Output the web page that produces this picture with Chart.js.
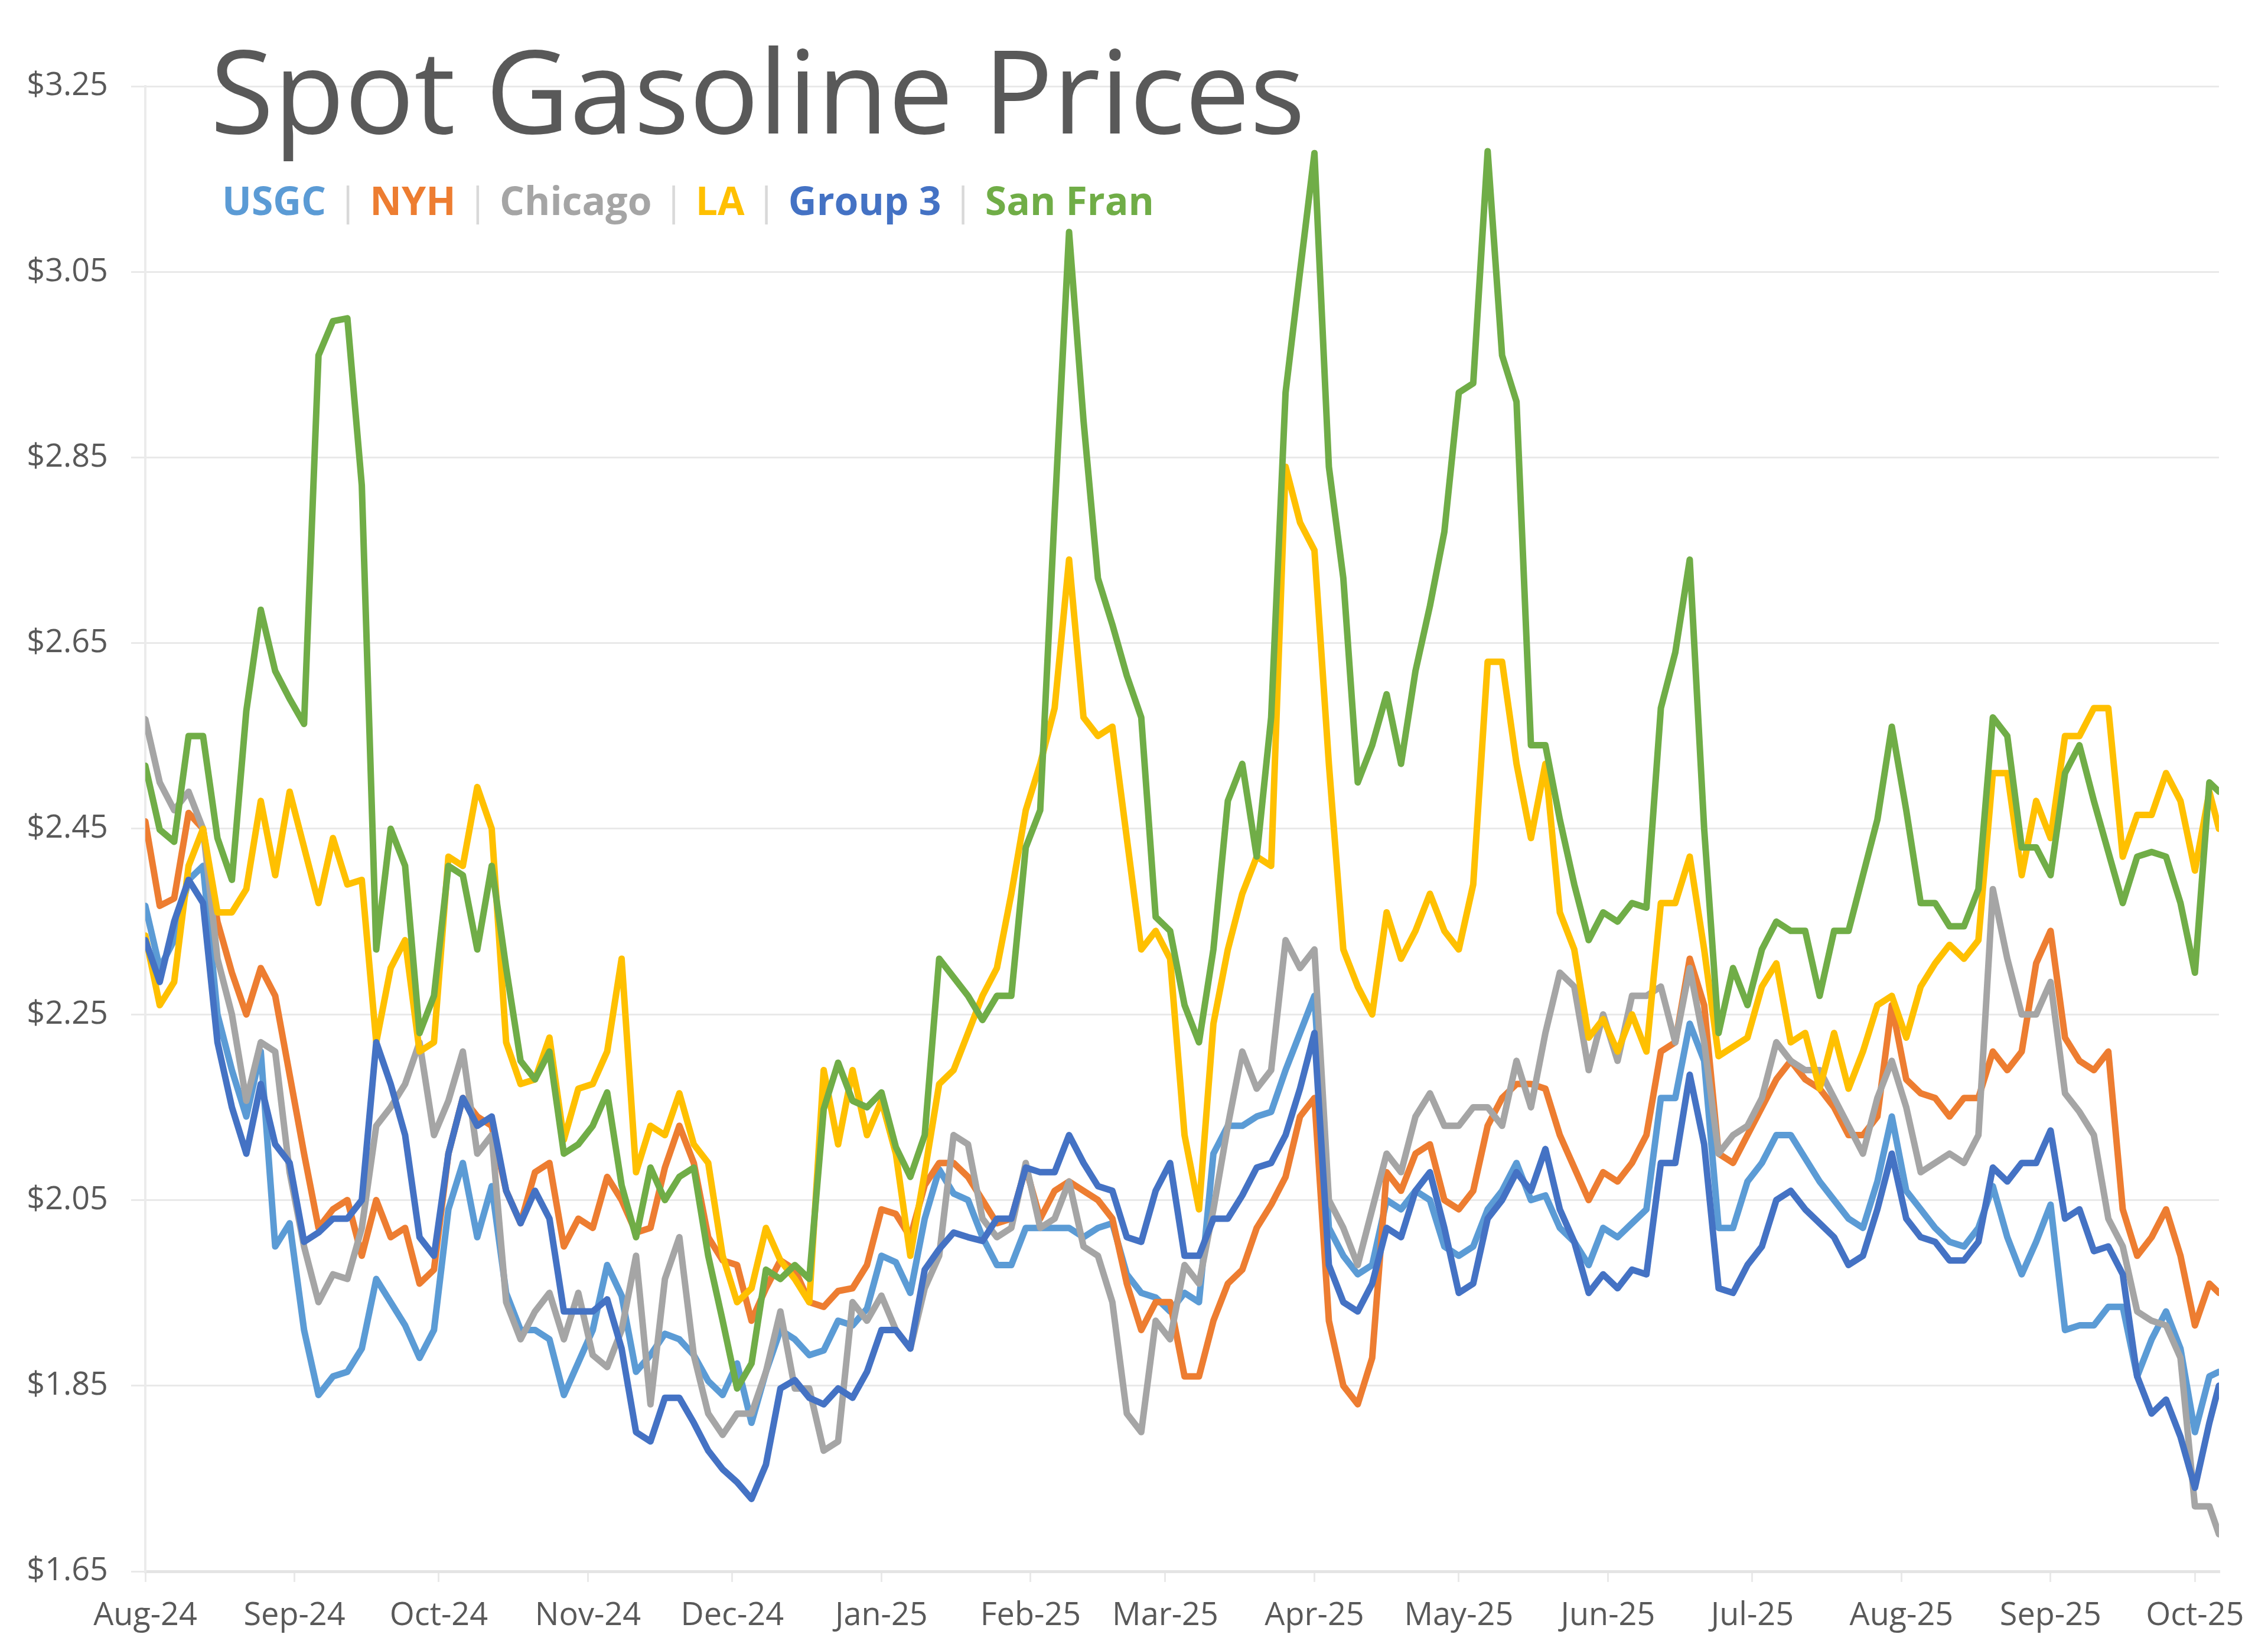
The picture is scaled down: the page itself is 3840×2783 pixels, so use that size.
<!DOCTYPE html>
<html>
<head>
<meta charset="utf-8">
<title>Spot Gasoline Prices</title>
<script src="https://cdn.jsdelivr.net/npm/chart.js@4.4.1/dist/chart.umd.min.js"></script>
<style>
    html, body { margin: 0; padding: 0; background: #fff; }
    #wrap { position: relative; width: 3840px; height: 2783px; }
    #title {
        position: absolute; left: 356px; top: 52px;
        font: 400 196px "Open Sans", "Segoe UI", sans-serif;
        line-height: 1; color: #595959; white-space: nowrap;
    }
    #legend {
        position: absolute; left: 376px; top: 305px;
        font: 700 66px "Open Sans", "Segoe UI", sans-serif;
        line-height: 1; white-space: nowrap;
    }
    #legend .sep { color: #d9d9d9; font-weight: 400; margin: 0 19px; }
</style>
</head>
<body>
<div id="wrap">
    <canvas id="gas-chart"></canvas>
    <div id="title">Spot Gasoline Prices</div>
    <div id="legend"></div>
</div>
<script>
// ── Data (roughly every 3 days from Aug 1 2024) ──

const dayOffsets = [
    0, 3, 6, 9, 12, 15, 18, 21, 24, 27, 30, 33, 36, 39, 42, 45, 48, 51, 54, 57, 60, 63, 66, 69, 72, 75, 78, 81, 84, 87, 90,
    93, 96, 99, 102, 105, 108, 111, 114, 117, 120, 123, 126, 129, 132, 135, 138, 141, 144, 147, 150, 153, 156, 159, 162, 165, 168, 171, 174, 177, 180, 183,
    186, 189, 192, 195, 198, 201, 204, 207, 210, 213, 216, 219, 222, 225, 228, 231, 234, 237, 240, 243, 246, 249, 252, 255, 258, 261, 264, 267, 270, 273,
    276, 279, 282, 285, 288, 291, 294, 297, 300, 303, 306, 309, 312, 315, 318, 321, 324, 327, 330, 333, 336, 339, 342, 345, 348, 351, 354, 357, 360, 363, 366,
    369, 372, 375, 378, 381, 384, 387, 390, 393, 396, 399, 402, 405, 408, 411, 414, 417, 420, 423, 426, 429, 431,
];

const usgc = [
    2.367, 2.30, 2.33, 2.395, 2.41, 2.25, 2.19, 2.14, 2.21, 2.00, 2.025, 1.91, 1.84, 1.86, 1.865, 1.89, 1.965, 1.94, 1.915, 1.88, 1.91, 2.04, 2.09, 2.01, 2.065, 1.95, 1.91, 1.91, 1.90, 1.84, 1.875,
    1.91, 1.98, 1.947, 1.865, 1.883, 1.906, 1.90, 1.883, 1.855, 1.84, 1.874, 1.81, 1.865, 1.91, 1.90, 1.883, 1.888, 1.92, 1.915, 1.933, 1.99, 1.983, 1.95, 2.03, 2.083, 2.057, 2.05, 2.01, 1.98, 1.98, 2.02,
    2.02, 2.02, 2.02, 2.01, 2.02, 2.025, 1.97, 1.95, 1.945, 1.93, 1.95, 1.94, 2.10, 2.13, 2.13, 2.14, 2.145, 2.19, 2.23, 2.27, 2.02, 1.99, 1.97, 1.98, 2.05, 2.04, 2.06, 2.05, 2.00, 1.99,
    2.00, 2.04, 2.06, 2.09, 2.05, 2.055, 2.02, 2.005, 1.98, 2.02, 2.01, 2.025, 2.04, 2.16, 2.16, 2.24, 2.20, 2.02, 2.02, 2.07, 2.09, 2.12, 2.12, 2.095, 2.07, 2.05, 2.03, 2.02, 2.07, 2.14, 2.06,
    2.04, 2.02, 2.005, 2.00, 2.02, 2.065, 2.01, 1.97, 2.005, 2.045, 1.91, 1.915, 1.915, 1.935, 1.935, 1.86, 1.90, 1.93, 1.89, 1.80, 1.86, 1.865,
];

const nyh = [
    2.458, 2.367, 2.375, 2.467, 2.45, 2.35, 2.295, 2.25, 2.30, 2.27, 2.185, 2.10, 2.02, 2.04, 2.05, 1.99, 2.05, 2.01, 2.02, 1.96, 1.975, 2.10, 2.16, 2.14, 2.13, 2.06, 2.025, 2.08, 2.09, 2.00, 2.03,
    2.02, 2.075, 2.05, 2.015, 2.02, 2.085, 2.13, 2.09, 2.01, 1.985, 1.98, 1.92, 1.955, 1.985, 1.975, 1.94, 1.935, 1.952, 1.955, 1.98, 2.04, 2.035, 2.01, 2.066, 2.09, 2.09, 2.075, 2.05, 2.025, 2.03, 2.085,
    2.03, 2.06, 2.07, 2.06, 2.05, 2.03, 1.96, 1.91, 1.94, 1.94, 1.86, 1.86, 1.92, 1.96, 1.975, 2.02, 2.045, 2.075, 2.14, 2.16, 1.92, 1.85, 1.83, 1.88, 2.08, 2.06, 2.10, 2.11, 2.05, 2.04,
    2.06, 2.13, 2.16, 2.175, 2.175, 2.17, 2.12, 2.085, 2.05, 2.08, 2.07, 2.09, 2.12, 2.21, 2.22, 2.31, 2.26, 2.10, 2.09, 2.12, 2.15, 2.18, 2.20, 2.18, 2.17, 2.15, 2.12, 2.12, 2.14, 2.26, 2.18,
    2.165, 2.16, 2.14, 2.16, 2.16, 2.21, 2.19, 2.21, 2.305, 2.34, 2.225, 2.20, 2.19, 2.21, 2.04, 1.99, 2.01, 2.04, 1.99, 1.915, 1.96, 1.95,
];

const chicago = [
    2.568, 2.50, 2.47, 2.49, 2.45, 2.31, 2.25, 2.157, 2.22, 2.21, 2.08, 2.00, 1.94, 1.97, 1.965, 2.02, 2.13, 2.15, 2.175, 2.22, 2.12, 2.157, 2.21, 2.10, 2.12, 1.94, 1.90, 1.93, 1.95, 1.90, 1.95,
    1.883, 1.87, 1.91, 1.99, 1.83, 1.965, 2.01, 1.883, 1.82, 1.797, 1.82, 1.82, 1.865, 1.93, 1.847, 1.847, 1.78, 1.79, 1.94, 1.92, 1.947, 1.91, 1.89, 1.955, 1.99, 2.12, 2.11, 2.03, 2.01, 2.02, 2.09,
    2.02, 2.03, 2.07, 2.00, 1.99, 1.94, 1.82, 1.80, 1.92, 1.90, 1.98, 1.96, 2.04, 2.13, 2.21, 2.17, 2.19, 2.33, 2.30, 2.32, 2.05, 2.02, 1.98, 2.04, 2.10, 2.08, 2.14, 2.165, 2.13, 2.13,
    2.15, 2.15, 2.13, 2.20, 2.15, 2.23, 2.295, 2.28, 2.19, 2.25, 2.20, 2.27, 2.27, 2.28, 2.22, 2.30, 2.22, 2.10, 2.12, 2.13, 2.16, 2.22, 2.20, 2.19, 2.19, 2.16, 2.13, 2.10, 2.16, 2.20, 2.15,
    2.08, 2.09, 2.10, 2.09, 2.12, 2.385, 2.31, 2.25, 2.25, 2.285, 2.165, 2.145, 2.12, 2.03, 2.00, 1.93, 1.92, 1.915, 1.88, 1.72, 1.72, 1.69,
];

const la = [
    2.335, 2.26, 2.285, 2.41, 2.45, 2.36, 2.36, 2.385, 2.48, 2.40, 2.49, 2.43, 2.37, 2.44, 2.39, 2.395, 2.22, 2.30, 2.33, 2.21, 2.22, 2.42, 2.41, 2.495, 2.45, 2.22, 2.175, 2.18, 2.225, 2.115, 2.17,
    2.175, 2.21, 2.31, 2.08, 2.13, 2.12, 2.165, 2.11, 2.09, 1.99, 1.94, 1.955, 2.02, 1.985, 1.965, 1.94, 2.19, 2.11, 2.19, 2.12, 2.157, 2.10, 1.99, 2.08, 2.175, 2.19, 2.23, 2.27, 2.30, 2.38, 2.47,
    2.52, 2.58, 2.74, 2.57, 2.55, 2.56, 2.44, 2.32, 2.34, 2.31, 2.12, 2.04, 2.24, 2.32, 2.38, 2.42, 2.41, 2.84, 2.78, 2.75, 2.52, 2.32, 2.28, 2.25, 2.36, 2.31, 2.34, 2.38, 2.34, 2.32,
    2.39, 2.63, 2.63, 2.52, 2.44, 2.52, 2.36, 2.32, 2.225, 2.245, 2.21, 2.25, 2.21, 2.37, 2.37, 2.42, 2.32, 2.205, 2.215, 2.225, 2.28, 2.305, 2.22, 2.23, 2.17, 2.23, 2.17, 2.21, 2.26, 2.27, 2.225,
    2.28, 2.305, 2.325, 2.31, 2.33, 2.51, 2.51, 2.40, 2.48, 2.44, 2.55, 2.55, 2.58, 2.58, 2.42, 2.465, 2.465, 2.51, 2.48, 2.405, 2.49, 2.45,
];

const group3 = [
    2.33, 2.285, 2.35, 2.395, 2.37, 2.22, 2.15, 2.10, 2.175, 2.11, 2.09, 2.005, 2.015, 2.03, 2.03, 2.05, 2.22, 2.175, 2.12, 2.01, 1.99, 2.10, 2.16, 2.13, 2.14, 2.06, 2.025, 2.06, 2.03, 1.93, 1.93,
    1.93, 1.943, 1.89, 1.80, 1.79, 1.837, 1.837, 1.81, 1.78, 1.76, 1.746, 1.728, 1.765, 1.847, 1.856, 1.837, 1.83, 1.847, 1.837, 1.865, 1.91, 1.91, 1.89, 1.975, 1.997, 2.015, 2.01, 2.006, 2.03, 2.03, 2.085,
    2.08, 2.08, 2.12, 2.09, 2.065, 2.06, 2.01, 2.005, 2.06, 2.09, 1.99, 1.99, 2.03, 2.03, 2.055, 2.085, 2.09, 2.12, 2.17, 2.23, 1.98, 1.94, 1.93, 1.96, 2.02, 2.01, 2.06, 2.08, 2.02, 1.95,
    1.96, 2.03, 2.05, 2.08, 2.06, 2.105, 2.04, 2.005, 1.95, 1.97, 1.955, 1.975, 1.97, 2.09, 2.09, 2.185, 2.11, 1.955, 1.95, 1.98, 2.00, 2.05, 2.06, 2.04, 2.025, 2.01, 1.98, 1.99, 2.04, 2.10, 2.03,
    2.01, 2.005, 1.985, 1.985, 2.005, 2.085, 2.07, 2.09, 2.09, 2.125, 2.03, 2.04, 1.995, 2.00, 1.97, 1.86, 1.82, 1.835, 1.795, 1.74, 1.81, 1.85,
];

const sanFran = [
    2.518, 2.449, 2.436, 2.55, 2.55, 2.44, 2.395, 2.577, 2.686, 2.62, 2.59, 2.563, 2.96, 2.997, 3.00, 2.82, 2.32, 2.45, 2.41, 2.23, 2.27, 2.41, 2.40, 2.32, 2.41, 2.30, 2.20, 2.18, 2.21, 2.10, 2.11,
    2.13, 2.166, 2.066, 2.01, 2.085, 2.05, 2.075, 2.085, 1.99, 1.92, 1.847, 1.874, 1.975, 1.965, 1.98, 1.965, 2.148, 2.198, 2.157, 2.15, 2.166, 2.107, 2.075, 2.12, 2.31, 2.29, 2.27, 2.244, 2.27, 2.27, 2.43,
    2.47, 2.79, 3.093, 2.89, 2.72, 2.67, 2.615, 2.57, 2.355, 2.34, 2.26, 2.22, 2.32, 2.48, 2.52, 2.42, 2.57, 2.92, 3.05, 3.178, 2.84, 2.72, 2.50, 2.54, 2.595, 2.52, 2.62, 2.69, 2.77, 2.92,
    2.93, 3.18, 2.96, 2.91, 2.54, 2.54, 2.46, 2.39, 2.33, 2.36, 2.35, 2.37, 2.365, 2.58, 2.64, 2.74, 2.45, 2.23, 2.30, 2.26, 2.32, 2.35, 2.34, 2.34, 2.27, 2.34, 2.34, 2.40, 2.46, 2.56, 2.47,
    2.37, 2.37, 2.345, 2.345, 2.385, 2.57, 2.55, 2.43, 2.43, 2.40, 2.51, 2.54, 2.48, 2.425, 2.37, 2.42, 2.425, 2.42, 2.37, 2.295, 2.50, 2.49,
];

const seriesNames  = ['USGC', 'NYH', 'Chicago', 'LA', 'Group 3', 'San Fran'];
const seriesValues = [usgc, nyh, chicago, la, group3, sanFran];
const seriesColors = ['#5B9BD5', '#ED7D31', '#A5A5A5', '#FFC000', '#4472C4', '#70AD47'];

const monthStartDays = [0, 31, 61, 92, 122, 153, 184, 212, 243, 273, 304, 334, 365, 396, 426];
const monthLabels = ['Aug-24', 'Sep-24', 'Oct-24', 'Nov-24', 'Dec-24', 'Jan-25', 'Feb-25', 'Mar-25',
                     'Apr-25', 'May-25', 'Jun-25', 'Jul-25', 'Aug-25', 'Sep-25', 'Oct-25'];

const FONT = '"Open Sans", "Segoe UI", sans-serif';
const TEXT_GREY = '#595959';
const GRID_GREY = '#e9e9e9';

// ── Legend (text row under the title) ────────────────────────────────

document.getElementById('legend').innerHTML = seriesNames
    .map((name, i) => `<span style="color:${seriesColors[i]}">${name}</span>`)
    .join('<span class="sep">|</span>');

// ── Chart ────────────────────────────────────────────────────────────

const datasets = seriesNames.map((name, i) => ({
    label:           name,
    data:            seriesValues[i].map((v, j) => ({ x: dayOffsets[j], y: v })),
    borderColor:     seriesColors[i],
    backgroundColor: seriesColors[i],
    borderWidth:     11,
    borderJoinStyle: 'round',
    borderCapStyle:  'round',
    pointRadius:     0,
    tension:         0,
    fill:            false,
    order:           seriesNames.length - 1 - i,   // later series on top, like Excel
}));

new Chart(document.getElementById('gas-chart'), {
    type: 'line',
    data: { datasets },
    options: {
        responsive:          true,
        maintainAspectRatio: false,
        devicePixelRatio:    1,
        animation:           false,
        layout: { padding: { top: 146, right: 83, bottom: 0, left: 0 } },
        plugins: {
            legend:  { display: false },
            tooltip: { enabled: false },
        },
        scales: {
            x: {
                type: 'linear',
                min:  0,
                max:  431,
                afterBuildTicks: scale => {
                    scale.ticks = monthStartDays.map(v => ({ value: v }));
                },
                afterFit: scale => { scale.height = 123; },
                grid: {
                    drawOnChartArea: false,
                    drawTicks:       true,
                    tickLength:      18,
                    color:           GRID_GREY,
                    lineWidth:       3,
                },
                border: { display: true, color: '#e4e4e4', width: 5 },
                ticks: {
                    autoSkip:    false,
                    maxRotation: 0,
                    padding:     25,
                    color:       TEXT_GREY,
                    font:        { family: FONT, size: 54 },
                    callback:    (v, i) => monthLabels[i],
                },
            },
            y: {
                min: 1.65,
                max: 3.25,
                afterFit: scale => { scale.width = 246; },
                grid: {
                    color:      GRID_GREY,
                    lineWidth:  3,
                    tickLength: 24,
                },
                border: { display: true, color: '#ebebeb', width: 4 },
                ticks: {
                    stepSize: 0.2,
                    padding:  39,
                    color:    TEXT_GREY,
                    font:     { family: FONT, size: 54 },
                    callback: v => '$' + v.toFixed(2),
                },
            },
        },
    },
});
</script>
</body>
</html>
